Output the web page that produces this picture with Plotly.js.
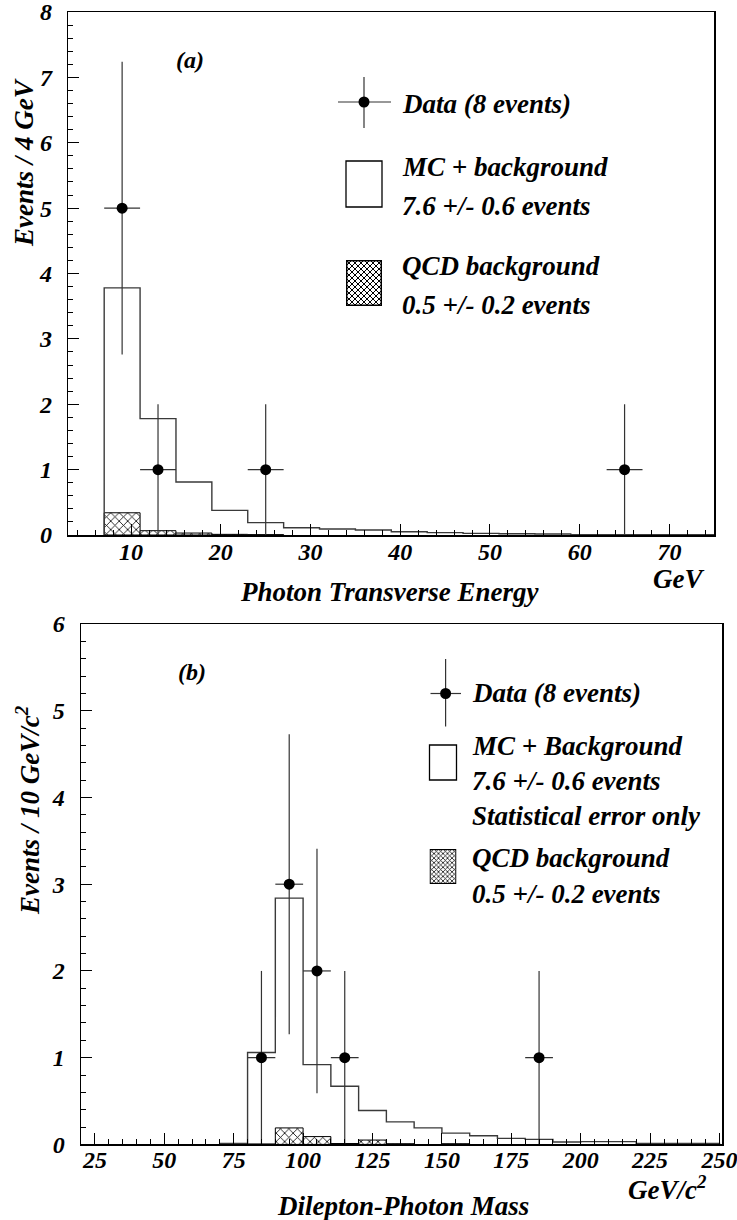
<!DOCTYPE html>
<html>
<head>
<meta charset="utf-8">
<script src="https://cdn.plot.ly/plotly-3.0.1.min.js"></script>
<style>
  html, body { margin: 0; padding: 0; background: #fff; }
  #chart { width: 737px; height: 1220px; }
</style>
</head>
<body>
<div id="chart"></div>
<script>
// ---------- Panel (a): Photon transverse energy ----------
const etEdges = [7, 11, 15, 19, 23, 27, 31, 35, 39, 43, 47, 51, 55, 59, 63, 67, 71, 75];
const etMC    = [3.78, 1.78, 0.81, 0.376, 0.19, 0.112, 0.092, 0.076, 0.05, 0.036, 0.025, 0.018, 0.015, 0.004, 0.004, 0.003, 0.003];
const etQCD   = [0.34, 0.066, 0.03, 0.01, 0.005, 0, 0, 0, 0, 0, 0, 0, 0, 0, 0, 0, 0];
const etDataX = [9, 13, 25, 65];
const etDataY = [5, 1, 1, 1];
const etDataErr = [2.24, 1, 1, 1];
const etDataXErr = [2, 2, 2, 2];
const etTicks = ['10', '20', '30', '40', '50', '60', '70'];
const etYTicks = ['0', '1', '2', '3', '4', '5', '6', '7', '8'];

// ---------- Panel (b): Dilepton-photon mass ----------
const mEdges = [70, 80, 90, 100, 110, 120, 130, 140, 150, 160, 170, 180, 190, 200, 210, 220, 230, 240, 250];
const mMC    = [0.012, 1.06, 2.84, 0.92, 0.67, 0.39, 0.26, 0.19, 0.13, 0.10, 0.07, 0.058, 0.028, 0.032, 0.032, 0.012, 0.012, 0.012];
const mQCD   = [0.005, 0.005, 0.19, 0.09, 0.01, 0.05, 0.008, 0, 0.008, 0, 0, 0, 0, 0, 0, 0, 0, 0];
const mDataX = [85, 95, 105, 115, 185];
const mDataY = [1, 3, 2, 1, 1];
const mDataErr = [1, 1.73, 1.41, 1, 1];
const mDataXErr = [5, 5, 5, 5, 5];
const mTicks = ['25', '50', '75', '100', '125', '150', '175', '200', '225', '250'];
const mYTicks = ['0', '1', '2', '3', '4', '5', '6'];

// ---------- helpers ----------
const W = 737, H = 1220;
const fx = p => p / W;
const fy = p => 1 - p / H;
const FONT = 'Liberation Serif';
const bi = (size) => ({family: FONT, size: size, color: '#000', weight: 'bold', style: 'italic'});

function stepTrace(edges, vals, xa, ya) {
  const xs = [edges[0]], ys = [0];
  for (let i = 0; i < vals.length; i++) { xs.push(edges[i]); ys.push(vals[i]); }
  xs.push(edges[edges.length - 1]); ys.push(0);
  return {type: 'scatter', mode: 'lines', x: xs, y: ys, xaxis: xa, yaxis: ya,
          line: {shape: 'hv', color: '#3a3a3a', width: 1.4}, hoverinfo: 'skip', showlegend: false};
}
function hatchTrace(edges, vals, xa, ya) {
  const cx = [], cy = [], cw = [];
  for (let i = 0; i < vals.length; i++) {
    if (vals[i] > 0) { cx.push((edges[i] + edges[i + 1]) / 2); cy.push(vals[i]); cw.push(edges[i + 1] - edges[i]); }
  }
  return {type: 'bar', x: cx, y: cy, width: cw, xaxis: xa, yaxis: ya,
          marker: {color: '#fff', line: {color: '#000', width: 1},
                   pattern: {shape: 'x', fgcolor: '#000', bgcolor: '#fff', size: 6, solidity: 0.25}},
          hoverinfo: 'skip', showlegend: false};
}
function dataTrace(x, y, err, xerr, xa, ya) {
  return {type: 'scatter', mode: 'markers', x: x, y: y, xaxis: xa, yaxis: ya,
          marker: {color: '#000', size: 11},
          error_y: {type: 'data', array: err, arrayminus: err, color: '#333', thickness: 1.2, width: 0},
          error_x: {type: 'data', array: xerr, arrayminus: xerr, color: '#333', thickness: 1.2, width: 0},
          hoverinfo: 'skip', showlegend: false};
}

const traces = [
  hatchTrace(etEdges, etQCD, 'x', 'y'),
  stepTrace(etEdges, etMC, 'x', 'y'),
  dataTrace(etDataX, etDataY, etDataErr, etDataXErr, 'x', 'y'),
  hatchTrace(mEdges, mQCD, 'x2', 'y2'),
  stepTrace(mEdges, mMC, 'x2', 'y2'),
  dataTrace(mDataX, mDataY, mDataErr, mDataXErr, 'x2', 'y2')
];

const axisBase = {
  showline: true, linecolor: '#000', linewidth: 1.5, mirror: true,
  ticks: 'inside', ticklen: 11, tickwidth: 1, tickcolor: '#000',
  showgrid: false, zeroline: false, tickfont: bi(24), fixedrange: true,
  ticklabeloverflow: 'allow',
  minor: {ticks: 'inside', ticklen: 5, tickwidth: 1, tickcolor: '#000', showgrid: false}
};

const nums = labels => labels.map(Number);

// hatched legend box image
const hatchSvg = "<svg xmlns='http://www.w3.org/2000/svg' width='36' height='46' viewBox='0 0 36 46'>" +
  "<defs><pattern id='p' width='6' height='6' patternUnits='userSpaceOnUse'>" +
  "<path d='M-1,-1L7,7M7,-1L-1,7' stroke='black' stroke-width='1'/></pattern></defs>" +
  "<rect x='0' y='0' width='36' height='46' fill='white'/>" +
  "<rect x='0.75' y='0.75' width='34.5' height='44.5' fill='url(#p)' stroke='black' stroke-width='1.5'/></svg>";
const hatchSrc = 'data:image/svg+xml;charset=utf-8,' + encodeURIComponent(hatchSvg);

function boxShape(x0, y0, x1, y1) {
  return {type: 'rect', xref: 'paper', yref: 'paper', x0: fx(x0), x1: fx(x1), y0: fy(y1), y1: fy(y0),
          line: {color: '#000', width: 1.3}, fillcolor: 'rgba(0,0,0,0)'};
}
function lineShape(x0, y0, x1, y1) {
  return {type: 'line', xref: 'paper', yref: 'paper', x0: fx(x0), x1: fx(x1), y0: fy(y0), y1: fy(y1),
          line: {color: '#333', width: 1.2}};
}
function dotShape(cx, cy, r) {
  return {type: 'circle', xref: 'paper', yref: 'paper', x0: fx(cx - r), x1: fx(cx + r), y0: fy(cy + r), y1: fy(cy - r),
          line: {color: '#000', width: 0}, fillcolor: '#000'};
}
function txt(text, x, y, size, anchor, angle) {
  return {text: text, xref: 'paper', yref: 'paper', x: fx(x), y: fy(y), showarrow: false,
          xanchor: anchor || 'left', yanchor: 'middle', font: bi(size), textangle: angle || 0};
}

const layout = {
  width: W, height: H,
  margin: {l: 0, r: 0, t: 0, b: 0},
  paper_bgcolor: '#fff', plot_bgcolor: '#fff',
  showlegend: false, bargap: 0,
  xaxis: Object.assign({}, axisBase, {domain: [fx(68.3), fx(714.3)], range: [3, 75], anchor: 'y',
          tickmode: 'array', tickvals: nums(etTicks), ticktext: etTicks, ticklabelstandoff: -5,
          minor: Object.assign({}, axisBase.minor, {dtick: 2, tick0: 0})}),
  yaxis: Object.assign({}, axisBase, {domain: [fy(535), fy(12)], range: [0, 8], anchor: 'x',
          tickmode: 'array', tickvals: nums(etYTicks), ticktext: etYTicks, ticklabelstandoff: 10,
          minor: Object.assign({}, axisBase.minor, {dtick: 0.2, tick0: 0})}),
  xaxis2: Object.assign({}, axisBase, {domain: [fx(81), fx(722.3)], range: [20, 251], anchor: 'y2',
          tickmode: 'array', tickvals: nums(mTicks), ticktext: mTicks, ticklabelstandoff: -7,
          minor: Object.assign({}, axisBase.minor, {dtick: 5, tick0: 0})}),
  yaxis2: Object.assign({}, axisBase, {domain: [fy(1144.4), fy(624)], range: [0, 6], anchor: 'x2',
          tickmode: 'array', tickvals: nums(mYTicks), ticktext: mYTicks, ticklabelstandoff: 10,
          minor: Object.assign({}, axisBase.minor, {dtick: 0.2, tick0: 0})}),
  shapes: [
    // panel (a) legend
    lineShape(338, 102, 391, 102), lineShape(364, 77, 364, 128), dotShape(364, 102, 5.5),
    boxShape(346, 161, 382, 207),
    // panel (b) legend
    lineShape(430.5, 693.5, 461, 693.5), lineShape(445.6, 659, 445.6, 726.5), dotShape(445.6, 693.5, 5.5),
    boxShape(429.5, 745, 456.5, 780)
  ],
  images: [
    {source: hatchSrc, xref: 'paper', yref: 'paper', x: fx(346), y: fy(260), sizex: 36 / W, sizey: 46 / H,
     xanchor: 'left', yanchor: 'top', sizing: 'stretch', layer: 'above'},
    {source: hatchSrc, xref: 'paper', yref: 'paper', x: fx(429.5), y: fy(849), sizex: 27 / W, sizey: 35 / H,
     xanchor: 'left', yanchor: 'top', sizing: 'stretch', layer: 'above'}
  ],
  annotations: [
    txt('(a)', 190, 60, 24, 'center'),
    txt('Data (8 events)', 400, 104, 27),
    txt('MC + background', 400, 167, 27),
    txt('7.6 +/- 0.6 events', 400, 206, 27),
    txt('QCD background', 400, 266, 27),
    txt('0.5 +/- 0.2 events', 400, 305, 27),
    txt('Events / 4 GeV', 24, 163, 27, 'center', -90),
    txt('Photon Transverse Energy', 390, 592, 27, 'center'),
    txt('GeV', 678, 579, 27, 'center'),

    txt('(b)', 192, 672, 24, 'center'),
    txt('Data (8 events)', 470, 693, 27),
    txt('MC + Background', 470, 746, 27),
    txt('7.6 +/- 0.6 events', 470, 781, 27),
    txt('Statistical error only', 470, 816, 27),
    txt('QCD background', 470, 858, 27),
    txt('0.5 +/- 0.2 events', 470, 894, 27),
    txt('Events / 10 GeV/c<sup>2</sup>', 28, 810, 27, 'center', -90),
    txt('Dilepton-Photon Mass', 403, 1206, 27, 'center'),
    txt('GeV/c<sup>2</sup>', 667, 1188, 27, 'center')
  ]
};

Plotly.newPlot('chart', traces, layout, {displayModeBar: false, staticPlot: true});
</script>
</body>
</html>
